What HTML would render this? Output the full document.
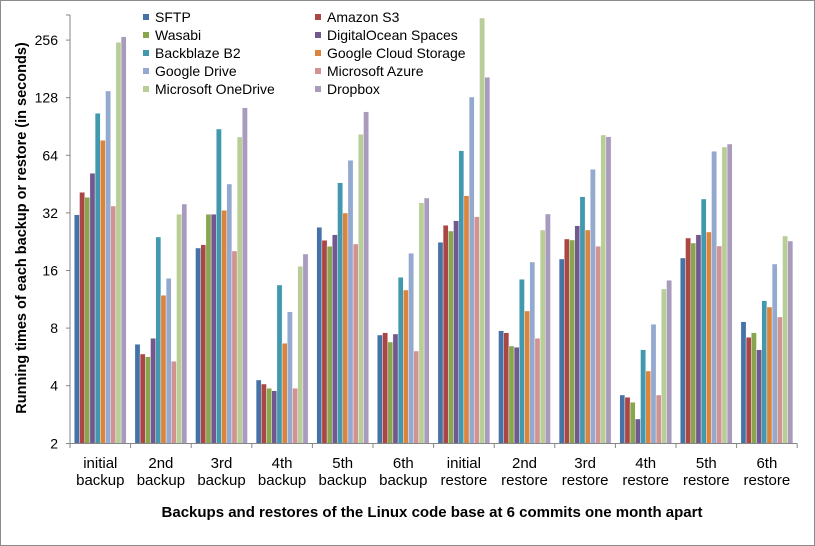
<!DOCTYPE html>
<html><head><meta charset="utf-8"><style>
html,body{margin:0;padding:0;background:#fff}
svg{display:block;font-family:"Liberation Sans",Arial,sans-serif}
</style></head><body>
<svg id="c" width="815" height="546" viewBox="0 0 815 546" xmlns="http://www.w3.org/2000/svg">
<rect x="0.5" y="0.5" width="814" height="545" fill="#fff" stroke="#8c8c8c" stroke-width="1"/>
<g id="bars"></g>
<g stroke="#868686" stroke-width="1" fill="none">
<line x1="70" y1="15" x2="70" y2="443.5"/>
<line x1="66" y1="443.5" x2="797" y2="443.5"/>
<line x1="66" y1="385.7" x2="70" y2="385.7"/>
<line x1="66" y1="328.1" x2="70" y2="328.1"/>
<line x1="66" y1="270.5" x2="70" y2="270.5"/>
<line x1="66" y1="212.9" x2="70" y2="212.9"/>
<line x1="66" y1="155.3" x2="70" y2="155.3"/>
<line x1="66" y1="97.7" x2="70" y2="97.7"/>
<line x1="66" y1="40.1" x2="70" y2="40.1"/>
<line x1="66" y1="15" x2="70" y2="15"/>
</g>
<g id="xt" stroke="#868686" stroke-width="1"></g>
<g font-size="14" fill="#000" text-anchor="end">
<text x="58" y="448.5">2</text>
<text x="58" y="390.7">4</text>
<text x="58" y="333.1">8</text>
<text x="58" y="275.5">16</text>
<text x="58" y="217.9">32</text>
<text x="58" y="160.3">64</text>
<text x="58" y="102.7">128</text>
<text x="58" y="45.1">256</text>
</g>
<g font-size="15" fill="#000" text-anchor="middle">
<text x="100.3" y="468">initial</text><text x="100.3" y="485">backup</text>
<text x="160.9" y="468">2nd</text><text x="160.9" y="485">backup</text>
<text x="221.5" y="468">3rd</text><text x="221.5" y="485">backup</text>
<text x="282.1" y="468">4th</text><text x="282.1" y="485">backup</text>
<text x="342.7" y="468">5th</text><text x="342.7" y="485">backup</text>
<text x="403.3" y="468">6th</text><text x="403.3" y="485">backup</text>
<text x="463.9" y="468">initial</text><text x="463.9" y="485">restore</text>
<text x="524.5" y="468">2nd</text><text x="524.5" y="485">restore</text>
<text x="585.1" y="468">3rd</text><text x="585.1" y="485">restore</text>
<text x="645.7" y="468">4th</text><text x="645.7" y="485">restore</text>
<text x="706.3" y="468">5th</text><text x="706.3" y="485">restore</text>
<text x="766.9" y="468">6th</text><text x="766.9" y="485">restore</text>
</g>
<text x="432" y="517" font-size="15" font-weight="bold" text-anchor="middle">Backups and restores of the Linux code base at 6 commits one month apart</text>
<text transform="translate(26,228) rotate(-90)" font-size="14.5" font-weight="bold" text-anchor="middle">Running times of each backup or restore (in seconds)</text>
<g font-size="14" fill="#000">
<rect x="143" y="14" width="6" height="6" fill="#4572A7"/><text x="155" y="22">SFTP</text>
<rect x="143" y="32" width="6" height="6" fill="#89A54E"/><text x="155" y="40">Wasabi</text>
<rect x="143" y="50" width="6" height="6" fill="#4198AF"/><text x="155" y="58">Backblaze B2</text>
<rect x="143" y="68" width="6" height="6" fill="#93A9CF"/><text x="155" y="76">Google Drive</text>
<rect x="143" y="86" width="6" height="6" fill="#B9CD96"/><text x="155" y="94">Microsoft OneDrive</text>
<rect x="315" y="14" width="6" height="6" fill="#AA4643"/><text x="327" y="22">Amazon S3</text>
<rect x="315" y="32" width="6" height="6" fill="#71588F"/><text x="327" y="40">DigitalOcean Spaces</text>
<rect x="315" y="50" width="6" height="6" fill="#DB843D"/><text x="327" y="58">Google Cloud Storage</text>
<rect x="315" y="68" width="6" height="6" fill="#D19392"/><text x="327" y="76">Microsoft Azure</text>
<rect x="315" y="86" width="6" height="6" fill="#A99BBD"/><text x="327" y="94">Dropbox</text>
</g>
<script>
var cols=["#4572A7","#AA4643","#89A54E","#71588F","#4198AF","#DB843D","#93A9CF","#D19392","#B9CD96","#A99BBD"];
var tops=[
[214.7,192.3,197.3,173.3,113.3,140.3,91,206,42.3,36.7],
[344.3,354,356.7,338.3,237,295.3,278.3,361.3,214.3,204],
[248,244.7,214.3,214.3,129,210.3,184,251,137,107.7],
[380,384,388.3,390.7,285,343.3,311.7,388.3,266.3,254],
[227.3,240.3,246.3,234.7,182.7,213,160.3,244,134.3,111.7],
[335,332.7,342,334,277.3,290,253.3,351,202.7,198],
[242.3,225.3,231,220.7,150.7,195.7,97,216.7,18,77.3],
[330.7,332.7,346,347.3,279.3,311,262,338.3,230,214],
[259,239,240,225.7,196.7,230,169.3,246.3,135,136.7],
[395,397.3,402.3,419,349.7,371,324.3,395,289,280.3],
[258,238,243,234.7,199,232,151.3,246,147,144],
[321.7,337.3,332.7,349.7,300.7,307,264,317,236,241]];
var ns="http://www.w3.org/2000/svg",g=document.getElementById("bars"),xt=document.getElementById("xt");
var gw=60.6,bw=5.2;
for(var i=0;i<12;i++){
 var gx=70+i*gw;
 for(var j=0;j<10;j++){
  var r=document.createElementNS(ns,"rect");
  r.setAttribute("x",(gx+4.3+j*bw).toFixed(2));
  r.setAttribute("y",tops[i][j]);
  r.setAttribute("width",bw);
  r.setAttribute("height",(443.3-tops[i][j]).toFixed(2));
  r.setAttribute("fill",cols[j]);
  r.setAttribute("stroke","#fff");r.setAttribute("stroke-width","0.4");
  g.appendChild(r);
 }
 var l=document.createElementNS(ns,"line");
 var x=gx+gw;
 l.setAttribute("x1",x);l.setAttribute("x2",x);l.setAttribute("y1",443.5);l.setAttribute("y2",448);
 xt.appendChild(l);
}
var l0=document.createElementNS(ns,"line");
l0.setAttribute("x1",70);l0.setAttribute("x2",70);l0.setAttribute("y1",443.5);l0.setAttribute("y2",448);xt.appendChild(l0);
</script>
</svg>
</body></html>
